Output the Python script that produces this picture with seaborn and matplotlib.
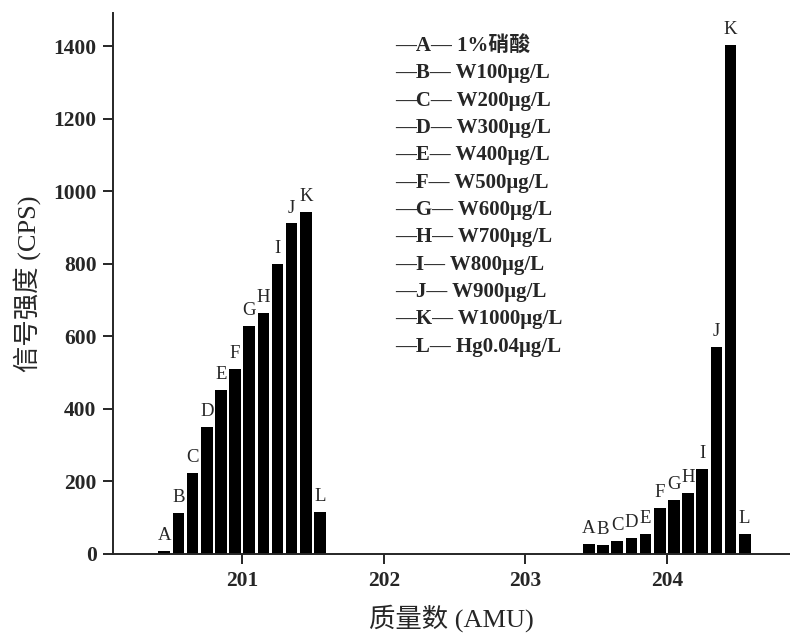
import numpy as np
import pandas as pd
import seaborn as sns
import matplotlib
matplotlib.use('Agg')
import matplotlib.pyplot as plt

# bar letters and legend entries
letters = ['A', 'B', 'C', 'D', 'E', 'F', 'G', 'H', 'I', 'J', 'K', 'L']
samples = ['1%硝酸', 'W100μg/L', 'W200μg/L', 'W300μg/L', 'W400μg/L', 'W500μg/L',
           'W600μg/L', 'W700μg/L', 'W800μg/L', 'W900μg/L', 'W1000μg/L', 'Hg0.04μg/L']

# mass positions of the bars (AMU)
mass_201 = [200.45, 200.55, 200.65, 200.75, 200.85, 200.95,
            201.05, 201.15, 201.25, 201.35, 201.45, 201.55]
mass_204 = [203.45, 203.55, 203.65, 203.75, 203.85, 203.95,
            204.05, 204.15, 204.25, 204.35, 204.45, 204.55]

# signal intensity (CPS)
cps_201 = [8, 112, 224, 351, 452, 511, 629, 663, 800, 911, 942, 115]
cps_204 = [27, 24, 37, 44, 55, 128, 150, 169, 234, 571, 1402, 56]

df = pd.DataFrame({
    'mass': np.round(mass_201 + mass_204, 2),
    'cps': cps_201 + cps_204,
    'letter': letters + letters,
})

sns.set_style('ticks')
serif = ['Liberation Serif', 'Noto Sans CJK SC']
plt.rcParams['font.family'] = serif
plt.rcParams['axes.linewidth'] = 1.4

fig = plt.figure(figsize=(7.9, 6.37), dpi=100)
ax = fig.add_axes([0.1434, 0.1303, 1.0 - 0.1434, 0.9796 - 0.1303])

sns.barplot(data=df, x='mass', y='cps', native_scale=True, width=0.82,
            color='black', saturation=1, edgecolor='none', ax=ax)

# letter above every bar
for _, row in df.iterrows():
    ax.annotate(row['letter'], (row['mass'], row['cps']), xytext=(0, 5),
                textcoords='offset points', ha='center', va='bottom',
                fontsize=13.5, family=serif)

ax.set_xlim(200.09, 204.87)
ax.set_ylim(0, 1491)
ax.set_xticks([201, 202, 203, 204])
ax.set_yticks(range(0, 1401, 200))
ax.tick_params(axis='both', direction='out', length=7, width=1.4, labelsize=15.5, pad=5)
for lab in ax.get_xticklabels() + ax.get_yticklabels():
    lab.set_fontweight('bold')
sns.despine(ax=ax)

ax.set_xlabel('质量数 (AMU)', fontsize=19, labelpad=10)
ax.set_ylabel('信号强度 (CPS)', fontsize=19, labelpad=8)

# text legend
for i, (let, name) in enumerate(zip(letters, samples)):
    ax.text(0.416, 0.939 - i * 0.0505, '—' + let + '— ' + name,
            transform=ax.transAxes, ha='left', va='center',
            fontsize=15, fontweight='bold', family=serif)

fig.savefig('out.png', dpi=100)
